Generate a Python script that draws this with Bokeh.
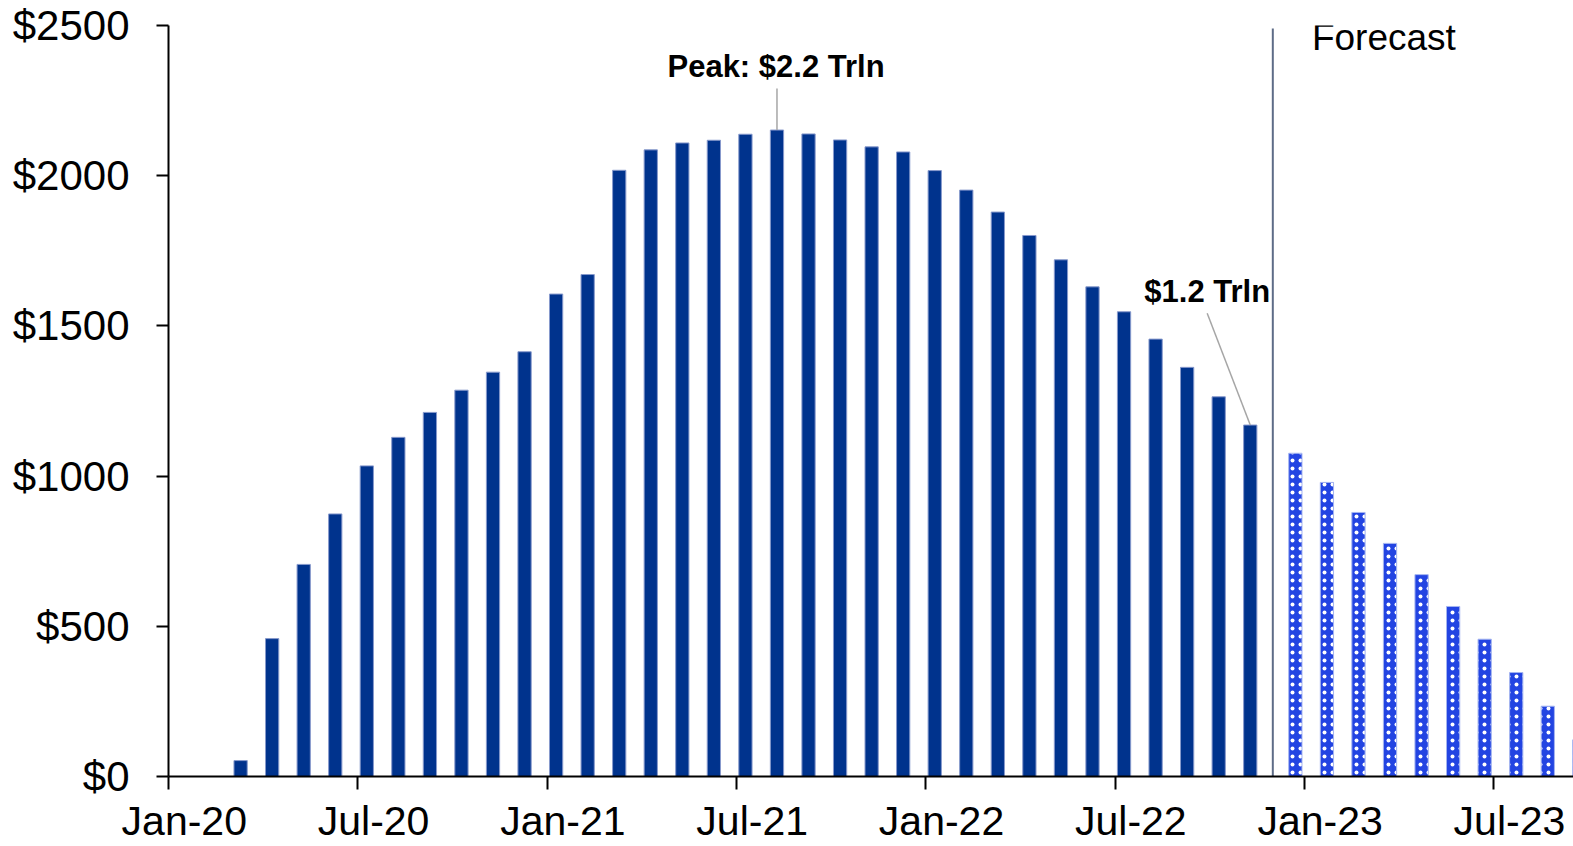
import pandas as pd
from bokeh.plotting import figure
from bokeh.models import Range1d, FixedTicker
from bokeh.core.properties import value
from bokeh.embed import file_html
from bokeh.resources import INLINE

# ---------------- data ----------------
hist_start, hist_end = "2020-03", "2022-11"
hist_values = [53, 459, 706, 874, 1034, 1129, 1212, 1286, 1346, 1414,
               1606, 1671, 2018, 2086, 2109, 2118, 2138, 2152, 2139, 2119,
               2096, 2079, 2017, 1952, 1879, 1801, 1720, 1630, 1547, 1456,
               1362, 1264, 1170]
fc_start, fc_end = "2022-12", "2023-09"
fc_values = [1076, 979, 879, 776, 672, 566, 457, 346, 234, 122]

tick_labels = ["Jan-20", "Jul-20", "Jan-21", "Jul-21", "Jan-22", "Jul-22", "Jan-23", "Jul-23"]
tick_months = ["2020-01", "2020-07", "2021-01", "2021-07", "2022-01", "2022-07", "2023-01", "2023-07"]
y_ticks = [0, 500, 1000, 1500, 2000, 2500]
y_labels = ["$0", "$500", "$1000", "$1500", "$2000", "$2500"]

peak_text = "Peak: $2.2 Trln"
last_text = "$1.2 Trln"
forecast_text = "Forecast"

FONT = "Liberation Sans"
BASE = pd.Period("2020-01", freq="M")


def midx(per):
    return (pd.Period(per, freq="M") - BASE).n


hist_idx = [(q - BASE).n for q in pd.period_range(hist_start, hist_end, freq="M")]
fc_idx = [(q - BASE).n for q in pd.period_range(fc_start, fc_end, freq="M")]
OFF = 0.215
hist_x = [i + 0.5 - OFF for i in hist_idx]
fc_x = [i + 0.5 + OFF for i in fc_idx]
tick_x = [midx(t) for t in tick_months]
label_x = [t + 0.5 for t in tick_x]

p = figure(width=1573, height=846, output_backend="svg", toolbar_location=None,
           x_range=Range1d(0, 44.53), y_range=Range1d(0, 2500),
           min_border_left=168, min_border_right=0, min_border_top=25,
           min_border_bottom=70)
p.outline_line_color = None
p.grid.visible = False
p.background_fill_color = "white"
p.border_fill_color = "white"

p.vbar(x=hist_x, top=hist_values, width=0.42, bottom=0,
       fill_color="#00338D", line_color="#8799CC", line_width=1)
p.vbar(x=fc_x, top=fc_values, width=0.42, bottom=0,
       fill_color="#2244E2", line_color="#A4B4F0", line_width=1,
       hatch_pattern="dot", hatch_color="white", hatch_scale=8, hatch_weight=1.2)

# forecast divider
fc_boundary = midx(fc_start)
p.segment(x0=[fc_boundary], y0=[0], x1=[fc_boundary], y1=[2490],
          line_color="#5E6C87", line_width=2)

# annotations
peak_i = max(range(len(hist_values)), key=lambda i: hist_values[i])
peak_x = hist_x[peak_i]
peak_v = hist_values[peak_i]
p.segment(x0=[peak_x], y0=[peak_v], x1=[peak_x], y1=[2290],
          line_color="#A6A6A6", line_width=1.5)
p.text(x=[peak_x - 0.03], y=[2362], text=[peak_text], text_font=value(FONT),
       text_font_style="bold", text_font_size="31px", text_align="center",
       text_baseline="alphabetic", text_color="black")

last_x = hist_x[-1]
last_v = hist_values[-1]
p.segment(x0=[32.92], y0=[1542], x1=[last_x], y1=[last_v],
          line_color="#A6A6A6", line_width=1.5)
p.text(x=[32.92], y=[1614], text=[last_text], text_font=value(FONT),
       text_font_style="bold", text_font_size="31px", text_align="center",
       text_baseline="alphabetic", text_color="black")

p.text(x=[36.24], y=[2461], text=[forecast_text], text_font=value(FONT),
       text_font_size="37px", text_align="left", text_baseline="alphabetic",
       text_color="black")

# x axis: labels mid-month (major, no tick marks), tick marks at month starts (minor)
xa = p.xaxis[0]
xa.ticker = FixedTicker(ticks=label_x, minor_ticks=tick_x)
xa.major_label_overrides = {lx: lab for lx, lab in zip(label_x, tick_labels)}
xa.major_tick_out = 0
xa.major_tick_in = 0
xa.minor_tick_out = 13
xa.minor_tick_in = 0
xa.minor_tick_line_width = 2
xa.minor_tick_line_color = "black"
xa.axis_line_width = 2
xa.axis_line_color = "black"
xa.major_label_text_font = FONT
xa.major_label_text_font_size = "41px"
xa.major_label_text_color = "black"
xa.major_label_standoff = 8

# y axis
ya = p.yaxis[0]
ya.ticker = FixedTicker(ticks=y_ticks, minor_ticks=[])
ya.major_label_overrides = {t: l for t, l in zip(y_ticks, y_labels)}
ya.major_label_text_font = FONT
ya.major_label_text_font_size = "42px"
ya.major_label_text_color = "black"
ya.major_label_standoff = 27
ya.major_tick_out = 12
ya.major_tick_in = 0
ya.minor_tick_out = 0
ya.minor_tick_in = 0
ya.axis_line_width = 2
ya.major_tick_line_width = 2
ya.axis_line_color = "black"
ya.major_tick_line_color = "black"

open("out.html", "w").write(file_html(p, INLINE))
